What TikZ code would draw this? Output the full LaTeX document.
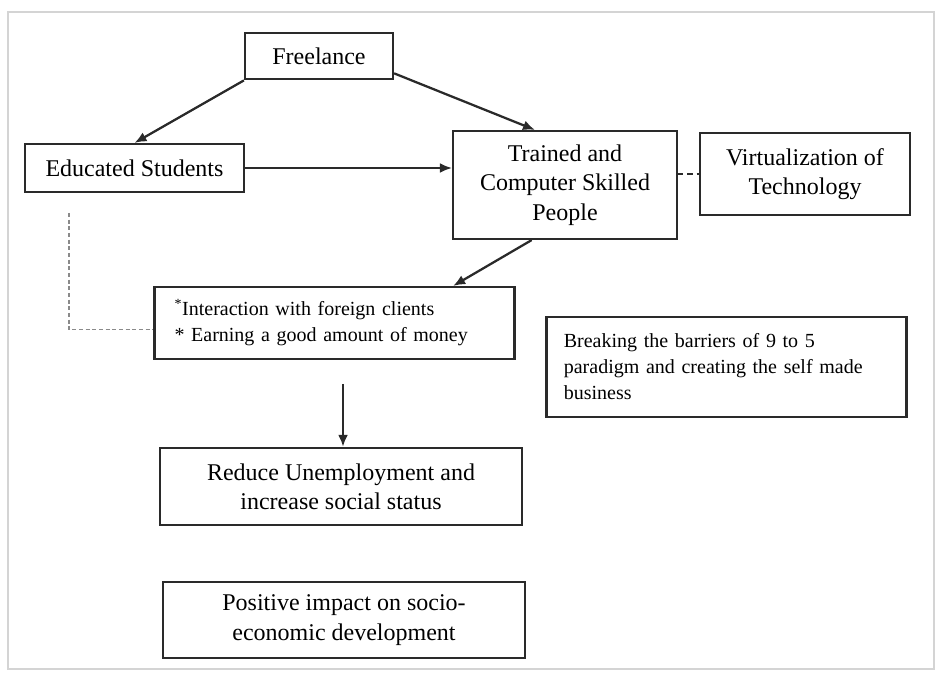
\documentclass[tikz,border=0pt]{standalone}
\usepackage{fontspec}
\setmainfont{Liberation Serif}
\usetikzlibrary{arrows.meta}
\definecolor{inkgrey}{HTML}{2A2A2A}
\definecolor{framegrey}{HTML}{D4D4D4}
\definecolor{dashgrey}{HTML}{8A8A8A}
\begin{document}
\begin{tikzpicture}[x=0.75pt,y=-0.75pt,
  >={Latex[length=9pt,width=7.5pt]},
  box/.style={draw=inkgrey, line width=1.6pt, align=center, inner sep=0pt,
    font=\fontsize{18}{22}\selectfont},
  notebox/.style={draw=inkgrey, line width=1.6pt, align=left, inner ysep=0pt,
    font=\fontsize{15}{19.5}\selectfont},
  link/.style={->, draw=inkgrey, line width=1.7pt}]
\useasboundingbox (0,0) rectangle (939,673);
\draw[framegrey, line width=1.5pt] (8,12) rectangle (934,669);

\node[box, minimum width=111pt, minimum height=35pt] (freelance) at (319,56) {Freelance};
\node[box, minimum width=164pt, minimum height=36pt] (students) at (134.5,168) {Educated Students};
\node[box, minimum width=168pt, minimum height=81pt] (trained) at (565,185) {Trained and\\Computer Skilled\\People};
\node[box, minimum width=157pt, minimum height=61pt] (virtual) at (805,174) {Virtualization of\\Technology};
\node[notebox, inner xsep=15pt, text width=240pt, minimum height=54pt] (interact) at (334.5,323)
  {\textsuperscript{*}Interaction with foreign clients\\{*} Earning a good amount of money};
\node[notebox, inner xsep=13pt, text width=244pt, minimum height=75pt] (breaking) at (726.5,367)
  {Breaking the barriers of 9 to 5\\paradigm and creating the self made\\business};
\node[box, minimum width=271pt, minimum height=58pt] (reduce) at (341,486.5) {Reduce Unemployment and\\increase social status};
\node[box, minimum width=271pt, minimum height=57pt] (positive) at (344,620) {Positive impact on socio-\\economic development};

\coordinate (gap) at (343,384);
\coordinate (drop) at (69,213);

\draw[link] (freelance.south west) -- (students.north);
\draw[link] ([yshift=-13pt]freelance.east) -- ([xshift=-22.5pt]trained.north);
\draw[link] (students.east) -- (students.east -| trained.west);
\draw[link] ([xshift=-25pt]trained.south) -- ([xshift=89pt]interact.north);
\draw[link] (gap) -- (gap |- reduce.north);
\draw[inkgrey, line width=1.8pt, dash pattern=on 4pt off 3pt] (trained.east |- virtual.west) -- (virtual.west);
\draw[dashgrey, line width=0.8pt, dash pattern=on 3pt off 2pt] (drop) |- ([yshift=-5pt]interact.west);
\end{tikzpicture}
\end{document}
